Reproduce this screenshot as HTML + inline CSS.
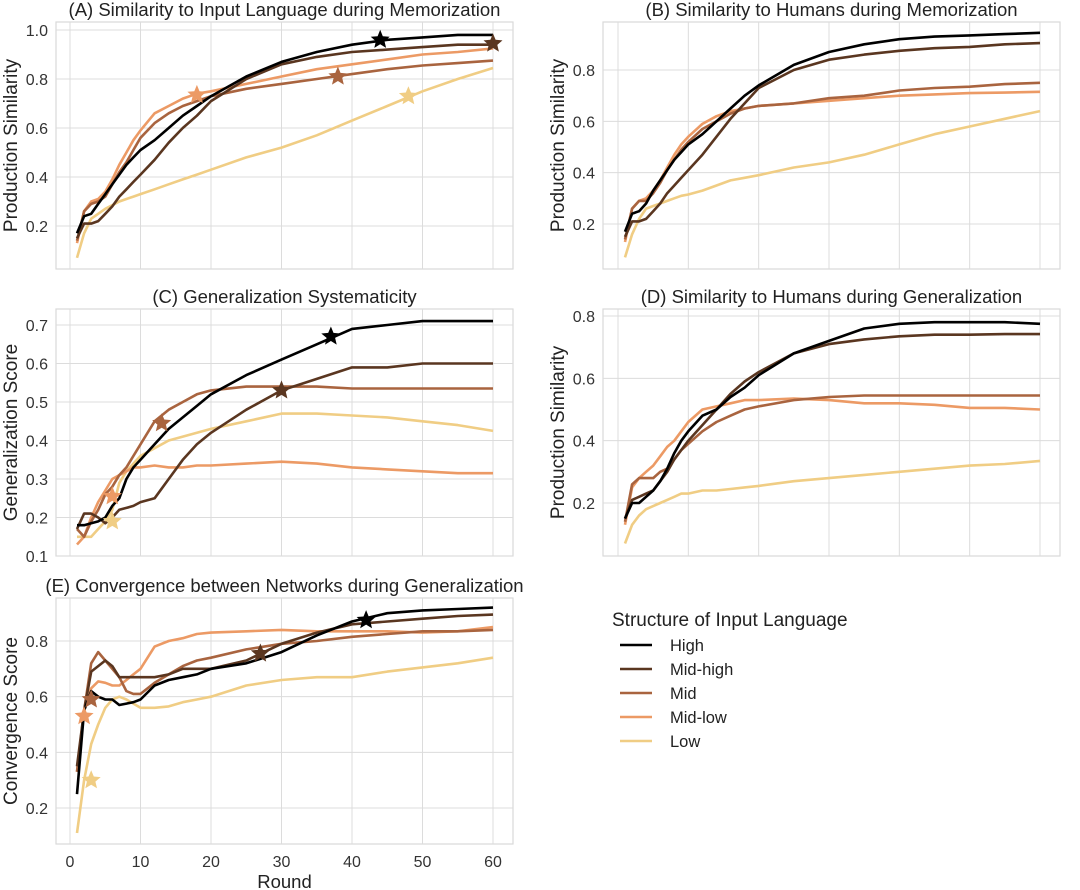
<!DOCTYPE html>
<html><head><meta charset="utf-8">
<style>
body{margin:0;background:#fff;}
svg{display:block;font-family:"Liberation Sans",sans-serif;}
</style></head>
<body>
<svg id="chart" width="1080" height="890" viewBox="0 0 1080 890" xmlns="http://www.w3.org/2000/svg"></svg>
<script>
const rounds=[1,2,3,4,5,6,7,8,9,10,12,14,16,18,20,25,30,35,40,45,50,55,60];
const seriesNames=["High","Mid-high","Mid","Mid-low","Low"];
const seriesColors=["#000000","#5a3620","#a9643f","#ec9a65","#f0cd84"];
const xTicks=[0,10,20,30,40,50,60];

const aHigh=[.17,.24,.25,.29,.33,.37,.41,.45,.48,.51,.55,.60,.65,.69,.73,.81,.87,.91,.94,.96,.97,.98,.98];
const aMidHigh=[.15,.21,.21,.22,.25,.28,.32,.35,.38,.41,.47,.54,.60,.65,.71,.80,.86,.89,.91,.92,.93,.94,.94];
const aMid=[.14,.26,.29,.30,.32,.37,.42,.46,.51,.56,.62,.66,.69,.71,.73,.76,.78,.80,.82,.84,.855,.865,.875];
const aMidLow=[.13,.26,.30,.31,.34,.39,.45,.50,.55,.59,.66,.69,.72,.74,.75,.78,.81,.84,.86,.88,.90,.91,.925];
const aLow=[.07,.17,.23,.25,.27,.285,.30,.31,.32,.33,.35,.37,.39,.41,.43,.48,.52,.57,.63,.69,.75,.80,.845];
const aStarRounds=[44,60,38,18,48];
const aStarValues=[.96,.945,.81,.735,.73];
const aTicks=[0.2,0.4,0.6,0.8,1.0];

const bHigh=[.17,.24,.25,.28,.33,.37,.41,.45,.48,.51,.55,.60,.65,.70,.74,.82,.87,.90,.92,.93,.935,.94,.945];
const bMidHigh=[.15,.21,.21,.22,.25,.28,.32,.35,.38,.41,.47,.54,.61,.67,.73,.80,.84,.86,.875,.885,.89,.90,.905];
const bMid=[.14,.26,.29,.29,.32,.36,.41,.45,.49,.52,.57,.60,.63,.65,.66,.67,.69,.70,.72,.73,.735,.745,.75];
const bMidLow=[.13,.26,.29,.30,.33,.37,.42,.47,.51,.54,.59,.62,.64,.65,.66,.67,.68,.69,.70,.705,.71,.712,.715];
const bLow=[.07,.16,.22,.26,.27,.28,.29,.30,.31,.315,.33,.35,.37,.38,.39,.42,.44,.47,.51,.55,.58,.61,.64];
const bTicks=[0.2,0.4,0.6,0.8];

const cHigh=[.18,.18,.185,.19,.2,.23,.25,.3,.33,.35,.39,.43,.46,.49,.52,.57,.61,.65,.69,.70,.71,.71,.71];
const cMidHigh=[.17,.21,.21,.2,.185,.2,.22,.225,.23,.24,.25,.3,.35,.39,.42,.48,.53,.56,.59,.59,.60,.60,.60];
const cMid=[.17,.15,.19,.22,.26,.28,.31,.33,.36,.39,.45,.48,.50,.52,.53,.54,.54,.54,.535,.535,.535,.535,.535];
const cMidLow=[.13,.15,.20,.24,.27,.30,.31,.32,.33,.33,.335,.33,.33,.335,.335,.34,.345,.34,.33,.325,.32,.315,.315];
const cLow=[.15,.15,.15,.17,.19,.22,.29,.32,.34,.36,.38,.40,.41,.42,.43,.45,.47,.47,.465,.46,.45,.44,.425];
const cStarRounds=[37,30,13,6,6];
const cStarValues=[.67,.53,.445,.255,.19];
const cTicks=[0.1,0.2,0.3,0.4,0.5,0.6,0.7];

const dHigh=[.15,.20,.20,.22,.24,.27,.31,.36,.40,.43,.48,.50,.54,.57,.61,.68,.72,.76,.775,.78,.78,.78,.775];
const dMidHigh=[.15,.21,.22,.23,.24,.27,.30,.34,.37,.40,.45,.50,.55,.59,.62,.68,.71,.725,.735,.74,.74,.742,.742];
const dMid=[.14,.26,.28,.28,.28,.30,.31,.34,.37,.39,.43,.46,.48,.50,.51,.53,.54,.545,.545,.545,.545,.545,.545];
const dMidLow=[.13,.25,.28,.30,.32,.35,.38,.40,.43,.46,.50,.51,.52,.53,.53,.535,.53,.52,.52,.515,.505,.505,.50];
const dLow=[.07,.13,.16,.18,.19,.20,.21,.22,.23,.23,.24,.24,.245,.25,.255,.27,.28,.29,.30,.31,.32,.325,.335];
const dTicks=[0.2,0.4,0.6,0.8];

const eHigh=[.25,.55,.62,.60,.59,.59,.57,.575,.58,.59,.64,.66,.67,.68,.70,.72,.76,.82,.87,.90,.91,.915,.92];
const eMidHigh=[.35,.55,.69,.71,.73,.71,.67,.67,.67,.67,.67,.68,.70,.70,.70,.73,.79,.83,.86,.87,.88,.89,.895];
const eMid=[.33,.55,.72,.76,.73,.70,.67,.62,.61,.61,.65,.68,.71,.73,.74,.77,.79,.80,.815,.825,.835,.835,.84];
const eMidLow=[.33,.55,.63,.655,.65,.64,.64,.66,.68,.70,.78,.80,.81,.825,.83,.835,.84,.835,.835,.835,.83,.835,.85];
const eLow=[.11,.30,.43,.50,.56,.59,.60,.59,.575,.56,.56,.565,.58,.59,.60,.64,.66,.67,.67,.69,.705,.72,.74];
const eStarRounds=[42,27,3,2,3];
const eStarValues=[.875,.755,.59,.53,.30];
const eTicks=[0.2,0.4,0.6,0.8];

const NS="http://www.w3.org/2000/svg";
const svg=document.getElementById('chart');
function mk(tag,attrs,parent){const e=document.createElementNS(NS,tag);for(const k in attrs)e.setAttribute(k,attrs[k]);(parent||svg).appendChild(e);return e;}

function starPath(cx,cy,R){const r=R*0.45;let d="";for(let i=0;i<10;i++){const a=-Math.PI/2+i*Math.PI/5;const rr=i%2?r:R;d+=(i?"L":"M")+(cx+rr*Math.cos(a)).toFixed(1)+","+(cy+rr*Math.sin(a)).toFixed(1);}return d+"Z";}

function panel(cfg){
  const g=mk('g',{});
  
  
  const sx=r=>cfg.x0+(r/60)*(cfg.x60-cfg.x0);
  const sy=v=>cfg.yA+(v-cfg.vA)/(cfg.vB-cfg.vA)*(cfg.yB-cfg.yA);
  const bg=mk('rect',{x:cfg.bx,y:cfg.by,width:cfg.bw,height:cfg.bh,fill:'#fff',stroke:'#d9d9d9','stroke-width':1.2},g);
  
  
  xTicks.forEach(t=>{const l=mk('line',{x1:sx(t),x2:sx(t),y1:cfg.by,y2:cfg.by+cfg.bh,stroke:'#dcdcdc','stroke-width':1},g);
    
    
    if(cfg.showX){const tx=mk('text',{x:sx(t),y:cfg.by+cfg.bh+23,'text-anchor':'middle','font-size':16,fill:'#333'},g);tx.textContent=t;
      
      }
  });
  cfg.ticks.forEach(t=>{const y=sy(t);const l=mk('line',{x1:cfg.bx,x2:cfg.bx+cfg.bw,y1:y,y2:y,stroke:'#dcdcdc','stroke-width':1},g);
    
    
    const tx=mk('text',{x:cfg.bx-8,y:y+6,'text-anchor':'end','font-size':16,fill:'#333'},g);tx.textContent=t.toFixed(1);
    
    
  });
  const ti=mk('text',{x:cfg.bx+cfg.bw/2,y:cfg.by-6,'text-anchor':'middle','font-size':18.5,fill:'#222'},g);ti.textContent=cfg.title;
  
  
  const yl=mk('text',{x:0,y:0,'text-anchor':'middle','font-size':19,fill:'#222',transform:`translate(${cfg.bx-39},${cfg.by+cfg.bh/2}) rotate(-90)`},g);yl.textContent=cfg.ylabel;
  
  
  for(let i=4;i>=0;i--){
    const vals=cfg.series[i];
    const d=rounds.map((r,j)=>(j?'L':'M')+sx(r).toFixed(1)+','+sy(vals[j]).toFixed(1)).join('');
    const p=mk('path',{d:d,fill:'none',stroke:seriesColors[i],'stroke-width':2.6,'stroke-linejoin':'round'},g);
    
    
  }
  if(cfg.starR){for(let i=4;i>=0;i--){
    const s=mk('path',{d:starPath(sx(cfg.starR[i]),sy(cfg.starV[i]),10),fill:seriesColors[i]},g);
    
    
  }}
  if(cfg.showX){const xl=mk('text',{x:cfg.bx+cfg.bw/2,y:cfg.by+cfg.bh+44,'text-anchor':'middle','font-size':18.5,fill:'#222'},g);xl.textContent='Round';
    
    }
}

panel({name:'panel-a',title:'(A) Similarity to Input Language during Memorization',ylabel:'Production Similarity',bx:56,by:22,bw:457,bh:247,x0:70,x60:493,vA:1.0,yA:30,vB:0.2,yB:226,ticks:aTicks,series:[aHigh,aMidHigh,aMid,aMidLow,aLow],starR:aStarRounds,starV:aStarValues});
panel({name:'panel-b',title:'(B) Similarity to Humans during Memorization',ylabel:'Production Similarity',bx:603,by:22,bw:457,bh:247,x0:618,x60:1040,vA:0.8,yA:70,vB:0.2,yB:224,ticks:bTicks,series:[bHigh,bMidHigh,bMid,bMidLow,bLow]});
panel({name:'panel-c',title:'(C) Generalization Systematicity',ylabel:'Generalization Score',bx:56,by:309,bw:457,bh:247,x0:70,x60:493,vA:0.7,yA:325,vB:0.1,yB:556,ticks:cTicks,series:[cHigh,cMidHigh,cMid,cMidLow,cLow],starR:cStarRounds,starV:cStarValues});
panel({name:'panel-d',title:'(D) Similarity to Humans during Generalization',ylabel:'Production Similarity',bx:603,by:309,bw:457,bh:247,x0:618,x60:1040,vA:0.8,yA:316,vB:0.2,yB:503,ticks:dTicks,series:[dHigh,dMidHigh,dMid,dMidLow,dLow]});
panel({name:'panel-e',title:'(E) Convergence between Networks during Generalization',ylabel:'Convergence Score',bx:56,by:598,bw:457,bh:246,x0:70,x60:493,vA:0.8,yA:641,vB:0.2,yB:808,ticks:eTicks,series:[eHigh,eMidHigh,eMid,eMidLow,eLow],starR:eStarRounds,starV:eStarValues,showX:true});

const lg=mk('g',{});


const lt=mk('text',{x:612,y:626,'font-size':19,fill:'#222'},lg);lt.textContent='Structure of Input Language';


seriesNames.forEach((n,i)=>{const y=645+i*24;
  const l=mk('line',{x1:620,x2:652,y1:y,y2:y,stroke:seriesColors[i],'stroke-width':2.6},lg);
  
  
  const t=mk('text',{x:670,y:y+6,'font-size':16.5,fill:'#222'},lg);t.textContent=n;
  
  
});
</script>
</body></html>
